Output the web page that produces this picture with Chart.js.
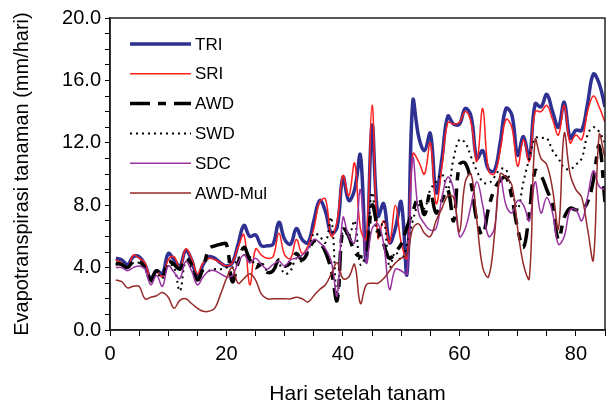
<!DOCTYPE html>
<html>
<head>
<meta charset="utf-8">
<script src="https://cdn.jsdelivr.net/npm/chart.js@4"></script>
<style>
  html, body { margin: 0; padding: 0; background: #fff; }
</style>
</head>
<body>
<canvas id="chart" width="611" height="408"></canvas>
<script>
// days after planting
const days = [1, 2, 3, 4, 5, 6, 7, 8, 9, 10, 11, 12, 13, 14, 15, 16, 17, 18, 19, 20,
  21, 22, 23, 24, 25, 26, 27, 28, 29, 30, 31, 32, 33, 34, 35, 36, 37, 38, 39, 40,
  41, 42, 43, 44, 45, 46, 47, 48, 49, 50, 51, 52, 53, 54, 55, 56, 57, 58, 59, 60,
  61, 62, 63, 64, 65, 66, 67, 68, 69, 70, 71, 72, 73, 74, 75, 76, 77, 78, 79, 80,
  81, 82, 83, 84, 85];

const TRI = [4.6, 4.5, 4.2, 4.7, 4.7, 4.2, 3.3, 3.8, 3.6, 4.9,
  4.5, 4.1, 5.1, 4.5, 3.4, 4.2, 4.7, 4.6, 4.3, 4.1,
  4.3, 5.5, 6.7, 6.0, 6.1, 5.4, 5.4, 5.5, 6.9, 5.8,
  5.5, 6.5, 5.8, 5.6, 7.0, 8.3, 7.6, 6.2, 6.6, 9.8,
  8.3, 9.0, 11.2, 4.4, 13.1, 7.3, 8.1, 5.6, 6.5, 8.2,
  3.6, 14.7, 12.4, 11.5, 12.6, 8.8, 11.0, 13.7, 13.2, 13.2,
  14.2, 13.7, 11.0, 11.5, 10.3, 10.2, 12.0, 14.2, 13.8, 11.2,
  12.4, 11.0, 14.5, 14.3, 15.1, 14.0, 13.0, 14.6, 12.3, 12.8,
  12.8, 14.5, 16.4, 15.8, 14.3];

const SRI = [4.5, 4.3, 4.0, 4.8, 4.6, 4.3, 3.3, 3.7, 3.4, 4.5,
  4.7, 3.9, 5.2, 4.6, 3.6, 4.3, 4.6, 4.5, 4.3, 4.1,
  4.3, 5.3, 6.1, 2.9, 5.2, 4.8, 4.6, 4.7, 6.2, 4.8,
  4.6, 5.8, 4.9, 5.4, 6.5, 8.2, 8.4, 6.0, 7.0, 9.9,
  8.6, 10.7, 6.5, 5.8, 14.4, 5.9, 7.0, 5.6, 8.0, 5.6,
  4.6, 11.3, 10.8, 10.0, 12.0, 8.1, 10.5, 13.3, 13.2, 13.3,
  14.0, 13.3, 10.8, 14.2, 10.2, 10.0, 11.5, 13.5, 13.0, 10.5,
  12.2, 10.8, 14.0, 14.0, 14.4, 13.5, 12.5, 14.4, 12.0, 12.5,
  12.2, 14.0, 15.0, 14.3, 13.3];

const AWD = [4.3, 4.2, 4.0, 4.4, 4.4, 4.0, 3.2, 3.8, 3.4, 4.4,
  4.2, 3.9, 4.6, 4.2, 3.2, 4.0, 5.2, 5.4, 5.5, 5.5,
  3.1, 4.3, 5.3, 4.5, 4.0, 4.2, 3.7, 3.8, 4.5, 4.1,
  4.3, 4.9, 4.5, 5.0, 5.7, 5.6, 5.0, 3.8, 1.9, 6.5,
  6.0, 5.0, 4.7, 4.8, 8.0, 6.5, 5.5, 4.6, 5.0, 5.5,
  6.6, 7.6, 8.5, 7.4, 8.8, 7.5, 8.3, 9.0, 7.0, 10.6,
  10.7, 9.4, 7.0, 6.1, 7.8, 9.0, 9.6, 9.8, 8.5, 6.5,
  5.3, 7.5, 10.2, 9.9, 9.0, 8.0, 5.8, 7.2, 7.8, 7.7,
  7.7, 8.2, 9.6, 11.8, 8.2];

const SWD = [4.2, 4.1, 4.0, 4.3, 4.3, 3.9, 3.1, 3.6, 3.3, 4.2,
  4.0, 2.5, 4.4, 4.0, 3.3, 3.8, 3.8, 3.9, 3.9, 4.0,
  4.0, 4.6, 4.8, 4.7, 4.2, 4.3, 3.8, 3.8, 4.2, 3.6,
  3.8, 4.6, 4.4, 5.0, 6.2, 6.0, 5.6, 7.2, 2.0, 6.5,
  6.0, 7.0, 4.2, 5.0, 8.8, 6.0, 7.0, 4.0, 5.0, 4.5,
  5.5, 7.0, 8.0, 7.8, 9.0, 9.5, 10.0, 9.0, 11.0, 12.2,
  12.0, 11.1, 10.2, 9.5, 9.4, 9.8, 10.3, 10.3, 9.0, 7.8,
  9.5, 11.0, 12.3, 12.3, 12.3, 11.5, 11.0, 10.4, 10.3, 10.6,
  11.0, 12.5, 13.0, 12.7, 12.0];

const SDC = [4.0, 4.0, 3.8, 4.0, 4.1, 3.9, 2.9, 3.5, 2.8, 4.1,
  3.7, 3.3, 4.4, 3.8, 2.9, 3.4, 3.8, 3.8, 3.6, 3.4,
  3.5, 4.3, 4.8, 4.3, 4.6, 4.2, 3.9, 4.2, 4.4, 4.1,
  4.5, 4.6, 4.8, 5.2, 5.8, 5.6, 5.2, 4.4, 2.2, 7.2,
  6.0, 5.6, 9.0, 4.3, 6.5, 6.8, 5.5, 2.6, 3.9, 3.8,
  3.6, 11.0, 7.5, 6.8, 6.4, 6.5, 8.5, 9.8, 9.0, 6.0,
  6.5, 8.0, 9.5, 8.0, 6.0, 6.5, 9.8, 8.0, 7.5, 8.3,
  8.0, 7.0, 9.5, 7.5, 8.5, 7.5, 5.5, 6.0, 7.7, 7.7,
  7.0, 8.5, 10.2, 9.2, 9.0];

const AWD_Mul = [3.2, 3.1, 2.7, 2.8, 2.8, 2.0, 2.1, 2.2, 2.4, 2.1,
  1.4, 1.9, 2.0, 1.7, 1.4, 1.2, 1.2, 1.4, 2.3, 3.3,
  4.0, 3.0, 3.3, 3.6, 3.2, 2.3, 2.0, 2.0, 2.0, 2.0,
  2.0, 2.1, 2.0, 1.8, 2.2, 2.6, 2.9, 3.6, 4.3, 3.3,
  3.4, 4.2, 1.7, 2.9, 3.0, 3.0, 3.3, 3.8, 4.3, 4.6,
  4.8, 6.5, 6.8, 6.2, 6.0, 7.0, 7.8, 8.6, 8.5, 6.3,
  9.5, 10.0, 7.0, 4.0, 3.4, 6.0, 10.0, 9.8, 9.3, 6.5,
  4.2, 3.3, 12.2, 11.0, 10.6, 9.0, 6.5, 12.6, 10.0, 9.0,
  8.5, 6.5, 4.5, 12.5, 11.0];

const seriesNames = ['TRI', 'SRI', 'AWD', 'SWD', 'SDC', 'AWD-Mul'];
const seriesValues = [TRI, SRI, AWD, SWD, SDC, AWD_Mul];
const seriesColors = ['#2e3192', '#ff1f1f', '#000000', '#000000', '#9933a0', '#962a2a'];
const seriesWidths = [3.5, 1.5, 3.5, 2, 1.5, 1.5];
const seriesDashes = [[], [], [20, 8, 8, 8], [2, 4], [], []];

const FONT = "'Liberation Sans', Arial, sans-serif";

function toPoints(vals) {
  return vals.map((v, i) => ({ x: days[i], y: v }));
}

// legend drawn inside the plot, top-left
const insideLegend = {
  id: 'insideLegend',
  afterDatasetsDraw(chart) {
    const ctx = chart.ctx;
    ctx.save();
    chart.data.datasets.forEach((ds, i) => {
      const y = 44 + i * 29.8;
      ctx.beginPath();
      ctx.strokeStyle = ds.borderColor;
      ctx.lineWidth = ds.borderWidth;
      ctx.setLineDash(ds.borderDash || []);
      ctx.moveTo(130, y);
      ctx.lineTo(191, y);
      ctx.stroke();
      ctx.setLineDash([]);
      ctx.fillStyle = '#000';
      ctx.font = '17px ' + FONT;
      ctx.textBaseline = 'middle';
      ctx.fillText(ds.label, 195, y + 1);
    });
    ctx.restore();
  }
};

// box around the plot area
const frame = {
  id: 'frame',
  afterDraw(chart) {
    const a = chart.chartArea;
    const ctx = chart.ctx;
    ctx.save();
    ctx.strokeStyle = '#222';
    ctx.lineWidth = 1.5;
    ctx.strokeRect(a.left, a.top, a.right - a.left, a.bottom - a.top);
    ctx.restore();
  }
};

new Chart(document.getElementById('chart'), {
  type: 'line',
  data: {
    datasets: seriesNames.map((name, i) => ({
      label: name,
      data: toPoints(seriesValues[i]),
      borderColor: seriesColors[i],
      backgroundColor: seriesColors[i],
      borderWidth: seriesWidths[i],
      borderDash: seriesDashes[i],
      pointRadius: 0,
      tension: 0.4,
      fill: false,
      order: seriesNames.length - i
    }))
  },
  options: {
    responsive: false,
    animation: false,
    devicePixelRatio: 1,
    layout: { padding: { top: 18, right: 3, left: 0, bottom: 0 } },
    plugins: { legend: { display: false }, tooltip: { enabled: false } },
    scales: {
      x: {
        type: 'linear',
        min: 0,
        max: 85,
        afterFit(scale) { scale.height = 78; },
        ticks: {
          stepSize: 5,
          autoSkip: false,
          maxRotation: 0,
          padding: 6,
          color: '#000',
          font: { family: FONT, size: 20 },
          callback: v => (v % 20 === 0 ? String(v) : '')
        },
        grid: { drawOnChartArea: false, drawTicks: true, tickLength: 6, color: '#000' },
        border: { color: '#000', width: 1.5 },
        title: {
          display: true,
          text: 'Hari setelah tanam',
          color: '#000',
          font: { family: FONT, size: 21 },
          padding: { top: 0, bottom: 1 }
        }
      },
      y: {
        min: 0,
        max: 20,
        afterFit(scale) { scale.width = 110; },
        ticks: {
          stepSize: 1,
          autoSkip: false,
          padding: 4,
          color: '#000',
          font: { family: FONT, size: 20 },
          callback: v => (v % 4 === 0 ? v.toFixed(1) : '')
        },
        grid: { drawOnChartArea: false, drawTicks: true, tickLength: 5, color: '#000' },
        border: { color: '#000', width: 1.5 },
        title: {
          display: true,
          text: 'Evapotranspirasi tanaman (mm/hari)',
          color: '#000',
          font: { family: FONT, size: 20 },
          padding: { top: 10, bottom: 0 }
        }
      }
    }
  },
  plugins: [insideLegend, frame]
});
</script>
</body>
</html>
